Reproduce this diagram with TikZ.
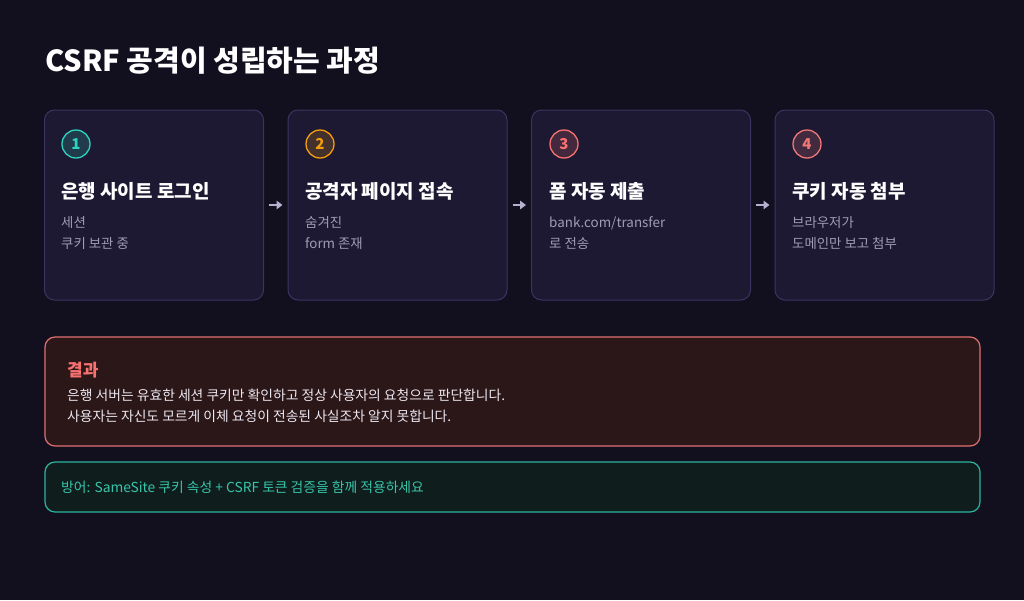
\documentclass[tikz,border=0pt]{standalone}
\usepackage{fontspec}
\setmainfont{Noto Sans CJK KR}
\usetikzlibrary{arrows.meta}
\definecolor{bg}{HTML}{120F1F}
\definecolor{cardfill}{HTML}{1D1933}
\definecolor{cardline}{HTML}{3A3560}
\definecolor{subtxt}{HTML}{A09CB8}
\definecolor{arrowc}{HTML}{B8B0D0}
\definecolor{cteal}{HTML}{2DD4BF}
\definecolor{camber}{HTML}{F59E0B}
\definecolor{cred}{HTML}{F87171}
\definecolor{cpink}{HTML}{F07878}
\definecolor{resfill}{HTML}{2B1618}
\definecolor{resline}{HTML}{E07070}
\definecolor{restitle}{HTML}{F87171}
\definecolor{restext}{HTML}{ECE8F2}
\definecolor{deffill}{HTML}{0F1E1D}
\definecolor{defline}{HTML}{2BB5A0}
\definecolor{deftext}{HTML}{38C4AA}
\tikzset{
  card/.style={draw=cardline, fill=cardfill, line width=1pt, rounded corners=10pt, minimum width=219pt, minimum height=190pt, inner sep=0pt},
  numc/.style={circle, draw=#1, fill=#1!18!cardfill, text=#1, line width=1.3pt, minimum size=28pt, inner sep=0pt, font=\fontsize{15}{15}\selectfont\bfseries},
  ctitle/.style={anchor=west, inner sep=0pt, text=white, font=\fontsize{19}{22}\selectfont\bfseries},
  csub/.style={anchor=north west, inner sep=0pt, text=subtxt, align=left, font=\fontsize{13.4}{21}\selectfont},
  arr/.style={draw=arrowc, line width=1.6pt, -{Triangle[length=6pt,width=8.5pt]}, shorten <=5pt, shorten >=5pt},
  bigbox/.style={rounded corners=10pt, line width=1.2pt, inner sep=0pt, minimum width=935pt},
  btext/.style={anchor=west, inner sep=0pt, font=\fontsize{13.8}{16}\selectfont},
}
\begin{document}
\begin{tikzpicture}[x=1pt,y=-1pt]
\useasboundingbox[fill=bg] (0,0) rectangle (1024,600);
\node[anchor=west, inner sep=0pt, text=white, font=\fontsize{29}{32}\selectfont\bfseries] (title) at (45,61) {CSRF 공격이 성립하는 과정};

% cards
\node[card] (c1) at (154,205) {};
\node[card] (c2) at (397.5,205) {};
\node[card] (c3) at (641,205) {};
\node[card] (c4) at (884.5,205) {};

\node[numc=cteal] (n1) at (76,144) {1};
\node[numc=camber] (n2) at (320,144) {2};
\node[numc=cred] (n3) at (564,144) {3};
\node[numc=cpink] (n4) at (807,144) {4};

\node[ctitle] (t1) at (61,191) {은행 사이트 로그인};
\node[ctitle] (t2) at (305,191) {공격자 페이지 접속};
\node[ctitle] (t3) at (549,191) {폼 자동 제출};
\node[ctitle] (t4) at (792,191) {쿠키 자동 첨부};

\node[csub] (s1) at (61,216) {세션\\쿠키 보관 중};
\node[csub] (s2) at (305,216) {숨겨진\\form 존재};
\node[csub] (s3) at (549,216) {bank.com/transfer\\로 전송};
\node[csub] (s4) at (792,216) {브라우저가\\도메인만 보고 첨부};

\draw[arr] (c1.east) -- (c2.west);
\draw[arr] (c2.east) -- (c3.west);
\draw[arr] (c3.east) -- (c4.west);

% result box
\node[bigbox, draw=resline, fill=resfill, minimum height=109pt] (res) at (512.5,391.5) {};
\node[anchor=west, inner sep=0pt, text=restitle, font=\fontsize{17}{20}\selectfont\bfseries] (rt) at (67,370) {결과};
\node[btext, text=restext] (r1) at (67,395) {은행 서버는 유효한 세션 쿠키만 확인하고 정상 사용자의 요청으로 판단합니다.};
\node[btext, text=restext] (r2) at (67,416) {사용자는 자신도 모르게 이체 요청이 전송된 사실조차 알지 못합니다.};

% defense box
\node[bigbox, draw=defline, fill=deffill, minimum height=50pt] (def) at (512.5,487) {};
\node[btext, text=deftext] (dt) at (61,487) {방어: SameSite 쿠키 속성 + CSRF 토큰 검증을 함께 적용하세요};
\end{tikzpicture}
\end{document}
